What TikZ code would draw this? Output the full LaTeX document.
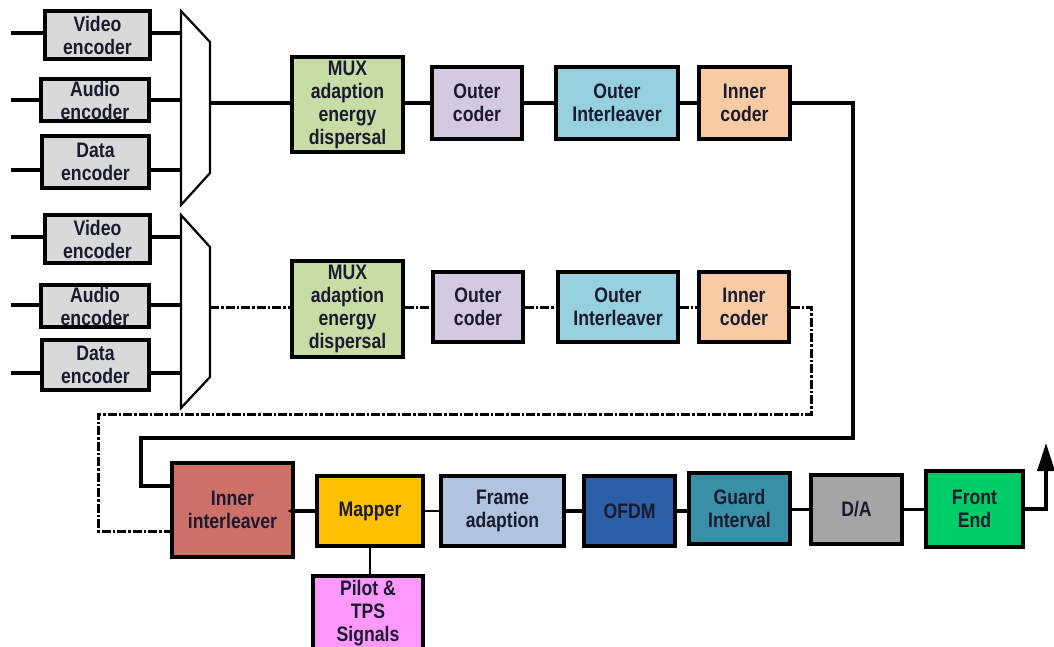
\documentclass[tikz,border=0pt]{standalone}
\usepackage{fontspec}
\setmainfont[FakeStretch=0.84]{Liberation Sans}
\usetikzlibrary{arrows.meta}

\definecolor{txt}{HTML}{1B1B30}
\definecolor{encgray}{HTML}{D9D9D9}
\definecolor{muxgreen}{HTML}{C8DCA6}
\definecolor{lavender}{HTML}{D3CAE0}
\definecolor{skyblue}{HTML}{96CFDD}
\definecolor{peach}{HTML}{F9CBA4}
\definecolor{brick}{HTML}{CD7068}
\definecolor{amber}{HTML}{FFC000}
\definecolor{pink}{HTML}{FF99FF}
\definecolor{steel}{HTML}{B0C4DE}
\definecolor{ofdmblue}{HTML}{2B5FA8}
\definecolor{teal}{HTML}{3990A6}
\definecolor{dagray}{HTML}{A5A5A5}
\definecolor{feGreen}{HTML}{00CC66}

\tikzset{
  blk/.style={draw=black, line width=3.4pt, rectangle, inner sep=0pt, align=center,
    text=txt, font=\fontsize{21}{23}\selectfont\bfseries},
  wire/.style={draw=black, line width=3.5pt},
  thinwire/.style={draw=black, line width=1.8pt},
  dashwire/.style={draw=black, line width=3pt, dash pattern=on 9pt off 2pt on 2.5pt off 2pt},
  muxshape/.style={draw=black, line width=2.2pt, fill=white},
}

\begin{document}
\begin{tikzpicture}[x=1pt,y=-1pt]
\useasboundingbox (0,0) rectangle (1054,646);

% ---------- first programme: encoders and multiplexer ----------
\node[blk, fill=encgray, minimum width=105, minimum height=48] (vA) at (97.5,35) {Video\\encoder};
\node[blk, fill=encgray, minimum width=108, minimum height=42] (aA) at (95,100) {Audio\\encoder};
\node[blk, fill=encgray, minimum width=107, minimum height=52] (dA) at (95.5,162) {Data\\encoder};

\coordinate (muxAtl) at (181,11);
\coordinate (muxAtr) at (210,42);
\coordinate (muxAbr) at (210,173);
\coordinate (muxAbl) at (181,205);

\coordinate (inA1) at (11,33);
\coordinate (inA2) at (11,100);
\coordinate (inA3) at (11,170);
\draw[wire] (inA1) -- (inA1 -| vA.west) (inA1 -| vA.east) -- (inA1 -| muxAtl);
\draw[wire] (inA2) -- (inA2 -| aA.west) (inA2 -| aA.east) -- (inA2 -| muxAtl);
\draw[wire] (inA3) -- (inA3 -| dA.west) (inA3 -| dA.east) -- (inA3 -| muxAtl);
\draw[muxshape] (muxAtl) -- (muxAtr) -- (muxAbr) -- (muxAbl) -- cycle;

% ---------- first programme: channel coding ----------
\node[blk, fill=muxgreen, minimum width=111, minimum height=95] (mxA) at (347.5,104.5) {MUX\\adaption\\energy\\dispersal};
\node[blk, fill=lavender, minimum width=90, minimum height=72] (ocA) at (477,103) {Outer\\coder};
\node[blk, fill=skyblue, minimum width=122, minimum height=72] (oiA) at (617,103) {Outer\\Interleaver};
\node[blk, fill=peach, minimum width=91, minimum height=72] (icA) at (744.5,103) {Inner\\coder};

\coordinate (outA) at (210,103);
\draw[wire] (outA) -- (outA -| mxA.west);
\draw[wire] (mxA.east |- ocA.west) -- (ocA.west);
\draw[wire] (ocA.east) -- (oiA.west);
\draw[wire] (oiA.east) -- (icA.west);

% ---------- second programme: encoders and multiplexer ----------
\node[blk, fill=encgray, minimum width=105, minimum height=48] (vB) at (97.5,239) {Video\\encoder};
\node[blk, fill=encgray, minimum width=108, minimum height=42] (aB) at (95,306) {Audio\\encoder};
\node[blk, fill=encgray, minimum width=107, minimum height=50] (dB) at (95.5,365) {Data\\encoder};

\coordinate (muxBtl) at (181,215);
\coordinate (muxBtr) at (210,247);
\coordinate (muxBbr) at (210,377);
\coordinate (muxBbl) at (181,408);

\coordinate (inB1) at (11,237);
\coordinate (inB2) at (11,305);
\coordinate (inB3) at (11,373);
\draw[wire] (inB1) -- (inB1 -| vB.west) (inB1 -| vB.east) -- (inB1 -| muxBtl);
\draw[wire] (inB2) -- (inB2 -| aB.west) (inB2 -| aB.east) -- (inB2 -| muxBtl);
\draw[wire] (inB3) -- (inB3 -| dB.west) (inB3 -| dB.east) -- (inB3 -| muxBtl);
\draw[muxshape] (muxBtl) -- (muxBtr) -- (muxBbr) -- (muxBbl) -- cycle;

% ---------- second programme: channel coding ----------
\node[blk, fill=muxgreen, minimum width=111, minimum height=96] (mxB) at (347.5,309) {MUX\\adaption\\energy\\dispersal};
\node[blk, fill=lavender, minimum width=90, minimum height=70] (ocB) at (478,307) {Outer\\coder};
\node[blk, fill=skyblue, minimum width=120, minimum height=70] (oiB) at (618,307) {Outer\\Interleaver};
\node[blk, fill=peach, minimum width=90, minimum height=70] (icB) at (744,307) {Inner\\coder};

\coordinate (outB) at (210,307);
\draw[dashwire] (outB) -- (outB -| mxB.west);
\draw[dashwire] (mxB.east |- ocB.west) -- (ocB.west);
\draw[dashwire] (ocB.east) -- (oiB.west);
\draw[dashwire] (oiB.east) -- (icB.west);

% ---------- modulation chain ----------
\node[blk, fill=brick, minimum width=121, minimum height=94] (ii) at (232.5,510) {Inner\\interleaver};
\node[blk, fill=amber, minimum width=106, minimum height=70] (mp) at (370,511) {Mapper};
\node[blk, fill=pink, minimum width=110, minimum height=74] (pl) at (368,613) {Pilot \&\\TPS\\Signals};
\node[blk, fill=steel, minimum width=123, minimum height=70] (fa) at (502.5,511) {Frame\\adaption};
\node[blk, fill=ofdmblue, minimum width=91, minimum height=70] (of) at (629.5,511) {OFDM};
\node[blk, fill=teal, minimum width=101, minimum height=71] (gi) at (739.5,508.5) {Guard\\Interval};
\node[blk, fill=dagray, minimum width=91, minimum height=69] (da) at (856.5,509.5) {D/A};
\node[blk, fill=feGreen, minimum width=97, minimum height=76] (fe) at (974.5,509) {Front\\End};

% loop from the first inner coder into the inner interleaver
\coordinate (lA1) at (853,103);
\coordinate (lA2) at (853,438);
\coordinate (lA3) at (141,438);
\coordinate (lA4) at (141,486);
\draw[wire, line join=miter] (icA.east) -- (lA1) -- (lA2) -- (lA3) -- (lA4) -- (lA4 -| ii.west);

% loop from the second inner coder into the inner interleaver
\coordinate (lB1) at (811,307);
\coordinate (lB2) at (811,414);
\coordinate (lB3) at (98,414);
\coordinate (lB4) at (98,531);
\draw[dashwire] (icB.east) -- (lB1) -- (lB2) -- (lB3) -- (lB4) -- (lB4 -| ii.west);

% chain connectors
\coordinate (iiIn) at ([xshift=-7pt]ii.east |- mp.west);
\draw[wire, -{Stealth[length=6pt,width=6pt]}] (mp.west) -- (iiIn);
\draw[thinwire] (mp.south) -- (mp.south |- pl.north);
\draw[thinwire] (mp.east) -- (fa.west);
\draw[wire] (fa.east) -- (of.west);
\draw[wire] (of.east) -- (of.east -| gi.west);
\draw[line width=2.4pt] (gi.east |- da.west) -- (da.west);
\draw[wire] (da.east) -- (da.east -| fe.west);

% transmitter output
\coordinate (txC) at (1046,509);
\coordinate (txTop) at (1046,443);
\draw[wire, -{Triangle[length=28pt,width=17pt]}] (fe.east) -- (txC) -- (txTop);
\end{tikzpicture}
\end{document}
